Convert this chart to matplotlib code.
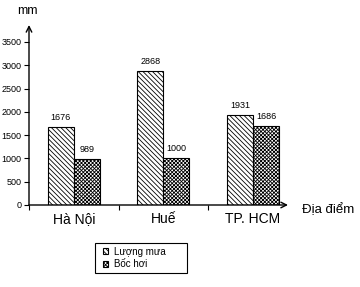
import matplotlib
matplotlib.use("Agg")
import matplotlib.pyplot as plt
from matplotlib.patches import Rectangle
import numpy as np

plt.rcParams['font.family'] = ['Liberation Sans', 'DejaVu Sans']
plt.rcParams['hatch.linewidth'] = 0.6

places = ["Hà Nội", "Huế", "TP. HCM"]
rain = [1676, 2868, 1931]
evap = [989, 1000, 1686]
series_names = ["Lượng mưa", "Bốc hơi"]
yticks = [0, 500, 1000, 1500, 2000, 2500, 3000, 3500]

fig = plt.figure(figsize=(3.6, 2.87), dpi=100)
ax = fig.add_axes([29 / 360, 1 - 205 / 287, 259 / 360, 180 / 287])

x = np.arange(len(places))
w = 0.29
b1 = ax.bar(x - w / 2, rain, w, color="white", edgecolor="black", lw=0.8,
            hatch="\\\\\\\\\\\\\\", label=series_names[0])
b2 = ax.bar(x + w / 2, evap, w, color="white", edgecolor="black", lw=0.8,
            hatch="xxxxxxxxx", label=series_names[1])
for bars, vals in ((b1, rain), (b2, evap)):
    for r, v in zip(bars, vals):
        ax.text(r.get_x() + r.get_width() / 2, v + 110, str(v),
                ha="center", va="bottom", fontsize=6.5)

ax.set_xlim(-0.5, 2.39)
ax.set_ylim(0, 3865)
ax.set_yticks(yticks)
ax.set_yticklabels([str(t) for t in yticks], fontsize=6.5)
ax.set_xticks([-0.5, 0.5, 1.5])
ax.set_xticklabels([])
ax.tick_params(axis="both", length=3.5, width=0.8, direction="out", pad=2)
for s in ax.spines.values():
    s.set_visible(False)
ax.annotate("", xy=(0, 1), xytext=(0, 0), xycoords="axes fraction",
            arrowprops=dict(arrowstyle="->", lw=1.0, color="black",
                            shrinkA=0, shrinkB=0))
ax.annotate("", xy=(1, 0), xytext=(0, 0), xycoords="axes fraction",
            arrowprops=dict(arrowstyle="->", lw=1.0, color="black",
                            shrinkA=0, shrinkB=0))

for i, p in enumerate(places):
    ax.text(i, -150, p, ha="center", va="top", fontsize=10)

fig.text(27 / 360, 1 - 11 / 287, "mm", ha="center", va="center", fontsize=9)
fig.text(302 / 360, 1 - 210 / 287, "Địa điểm", ha="left", va="center", fontsize=9.5)

# legend: frame drawn separately to match the wide box
fig.patches.append(Rectangle((95 / 360, 1 - 273 / 287), 92 / 360, 30 / 287,
                             transform=fig.transFigure, fill=False,
                             edgecolor="black", lw=0.8))
leg = fig.legend(handles=[b1, b2], loc="center left",
                 bbox_to_anchor=(96 / 360, 1 - 258 / 287), fontsize=7,
                 frameon=False, handlelength=0.55, handleheight=0.55,
                 handletextpad=0.6, borderpad=0.2, labelspacing=0.25)

fig.savefig("out.png", dpi=100)
